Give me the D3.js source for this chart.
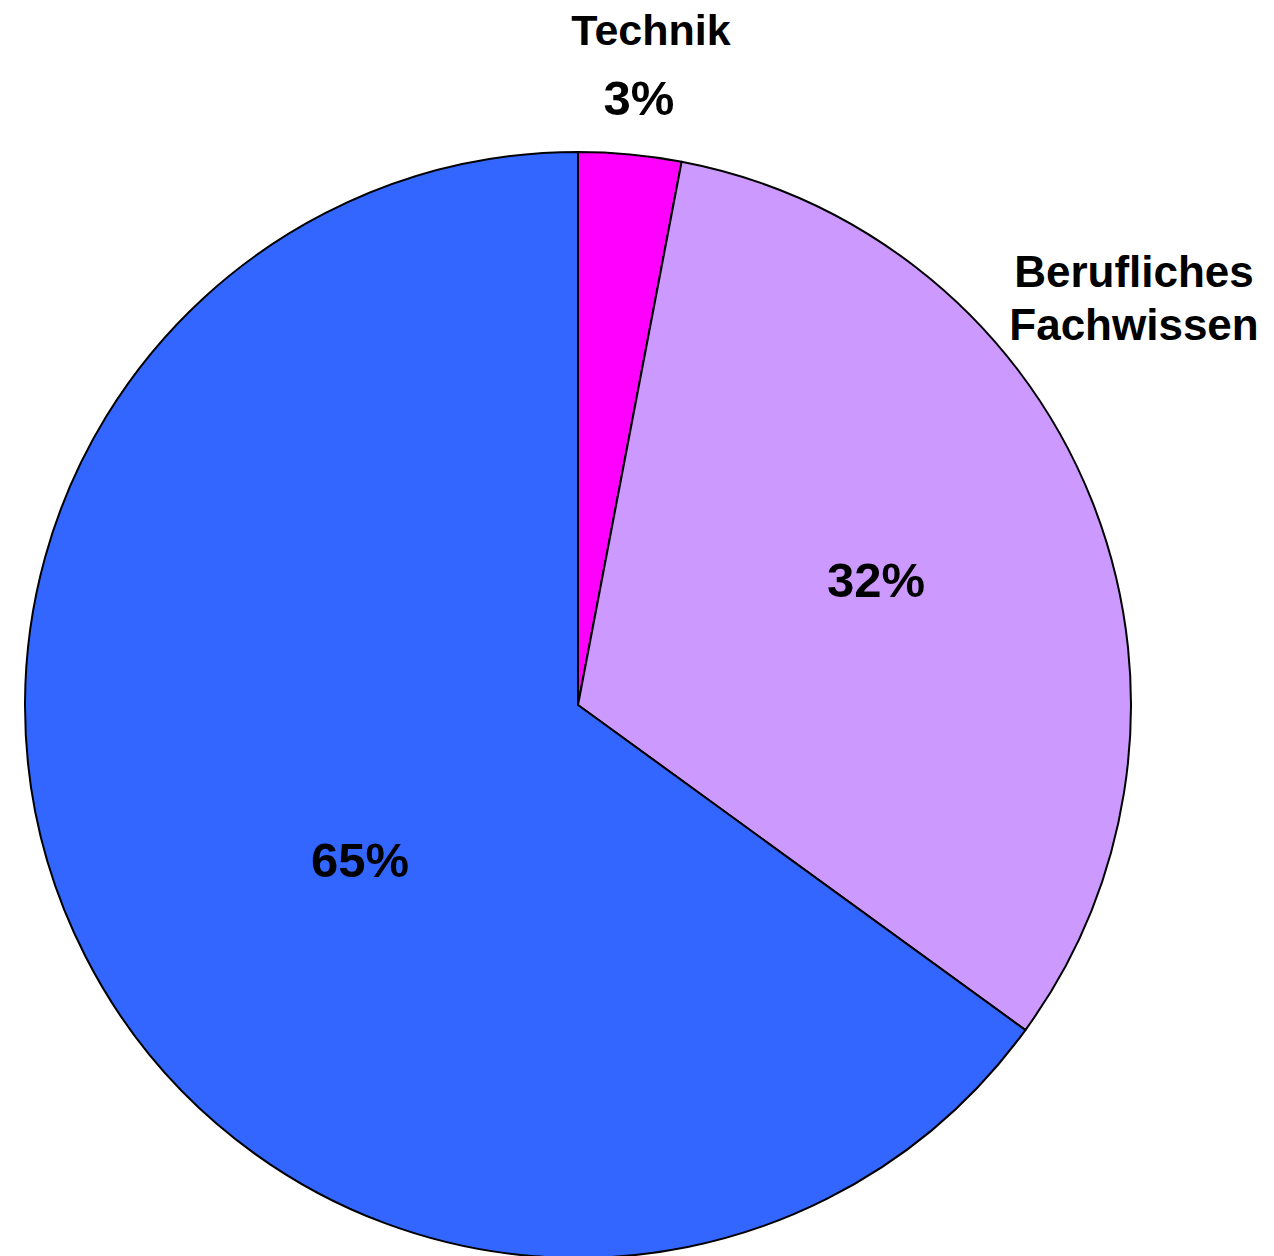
<!DOCTYPE html>
<html><head><meta charset="utf-8">
<script src="https://cdn.jsdelivr.net/npm/d3@7"></script>
<style>html,body{margin:0;padding:0;background:#fff;}svg{display:block;}</style>
</head><body>
<script>
const categories = ["Technik", "Berufliches Fachwissen", ""];
const values = [3, 32, 65];
const colors = ["#FF00FF", "#CC99FF", "#3366FF"];

const W = 1274, H = 1256;
const cx = 578, cy = 705, R = 553;
const svg = d3.select("body").append("svg").attr("width", W).attr("height", H);
const g = svg.append("g").attr("transform", `translate(${cx},${cy})`);
const pie = d3.pie().sort(null).value(d => d)(values);
const arc = d3.arc().innerRadius(0).outerRadius(R);
g.selectAll("path").data(pie).enter().append("path")
  .attr("d", arc).attr("fill", (d, i) => colors[i])
  .attr("stroke", "#000").attr("stroke-width", 2).attr("stroke-linejoin", "round");

const font = "'Liberation Sans', Arial, sans-serif";
function txt(x, y, s, size) {
  svg.append("text").attr("x", x).attr("y", y).attr("text-anchor", "middle")
    .attr("font-family", font).attr("font-weight", "bold").attr("font-size", size)
    .attr("fill", "#000").text(s);
}
// Category labels
txt(651, 45, categories[0], 43);
const parts = categories[1].split(" ");
txt(1134, 287, parts[0], 44);
txt(1134, 340, parts[1], 44);
// Percent labels
txt(639, 115, values[0] + "%", 49);
txt(876, 597, values[1] + "%", 49);
txt(360, 877, values[2] + "%", 49);
</script>
</body></html>
